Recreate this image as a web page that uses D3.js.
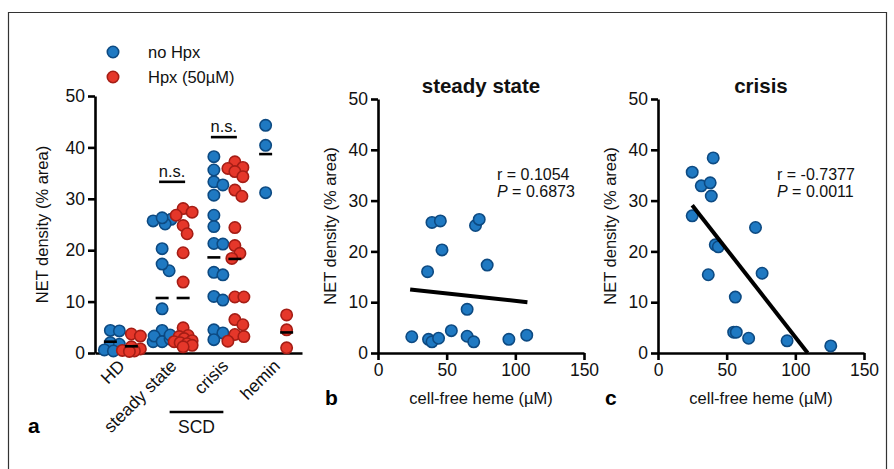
<!DOCTYPE html>
<html>
<head>
<meta charset="utf-8">
<script src="https://cdn.jsdelivr.net/npm/d3@7/dist/d3.min.js"></script>
<style>
  html, body { margin: 0; padding: 0; background: #fff; }
  svg { display: block; font-family: "Liberation Sans", Arial, Helvetica, sans-serif; }
  .axis path, .axis line { stroke: #000; stroke-width: 2.6; }
  .axis text { font-size: 17.5px; fill: #111; font-family: "Liberation Sans", Arial, sans-serif; }
</style>
</head>
<body>
<svg id="chart" width="894" height="469"></svg>
<script>
// ---------------- data ----------------
const categories = ["HD", "steady state", "crisis", "hemin"];
const seriesNames = ["no Hpx", "Hpx (50\u00b5M)"];
const noHpx = [
  [4.4, 4.3, 2.0, 1.7, 0.6, 0.4],
  [3.2, 2.7, 2.2, 2.9, 4.4, 8.6, 3.3, 2.2, 2.7, 3.5, 16.0, 20.3, 17.3, 25.7, 26.0, 25.1, 26.3],
  [38.2, 35.6, 33.3, 32.7, 30.7, 26.8, 24.6, 21.3, 21.2, 15.7, 15.2, 11.0, 10.3, 4.5, 3.9, 2.6],
  [44.3, 40.4, 31.2]
];
const hpx = [
  [3.7, 3.3, 1.2, 0.8, 0.5, 0.4, 0.3],
  [28.1, 27.4, 26.8, 24.8, 23.2, 19.5, 13.8, 4.9, 3.4, 3.2, 2.8, 2.4, 2.2, 2.0, 1.8, 1.5, 1.2],
  [37.2, 36.1, 35.9, 35.3, 34.3, 31.7, 30.5, 24.4, 20.9, 19.4, 18.4, 10.9, 10.9, 6.5, 5.5, 3.6, 3.2, 2.3],
  [7.4, 4.5, 1.0]
];
const meanNoHpx = [2.2, 10.7, 18.6, 38.7];
const meanHpx = [1.3, 10.7, 18.3, 4.0];
const sigCategories = ["steady state", "crisis"];
const sigLevels = [33.3, 42.0];
const sigLabels = ["n.s.", "n.s."];
const groupLabel = "SCD";
const yTicks = [0, 10, 20, 30, 40, 50];
const xTicksHeme = [0, 50, 100, 150];

const steadyHeme = [24.6, 36.8, 39.3, 44.1, 53.4, 64.9, 64.9, 69.7, 95.3, 108.3, 36.1, 46.6, 79.5, 39.3, 45.4, 71.0, 73.7];
const steadyNet  = [3.2, 2.7, 2.2, 2.9, 4.4, 8.6, 3.3, 2.2, 2.7, 3.5, 16.0, 20.3, 17.3, 25.7, 26.0, 25.1, 26.3];
const steadyFit = [[23.4, 12.5], [108.8, 10.0]];
const steadyStats = ["r = 0.1054", "0.6873"];

const crisisHeme = [40.2, 24.9, 31.5, 38.0, 38.8, 24.9, 41.7, 43.9, 36.6, 56.3, 55.1, 57.0, 66.0, 71.0, 75.8, 94.0, 125.8];
const crisisNet  = [38.4, 35.6, 32.9, 33.5, 30.9, 27.0, 21.3, 20.9, 15.4, 11.0, 4.1, 4.1, 2.9, 24.7, 15.7, 2.4, 1.4];
const crisisFit = [[24.9, 29.1], [109.0, 0.0]];
const crisisStats = ["r = -0.7377", "0.0011"];

const yTitle = "NET density (% area)";
const xTitle = "cell-free heme (\u00b5M)";

// ---------------- styles ----------------
const BLUE = "#1f79c2", BLUE_S = "#0d4a82";
const RED = "#e5372a", RED_S = "#a51d15";
const R = 5.7;

const svg = d3.select("#chart");
svg.append("rect").attr("width", 894).attr("height", 469).attr("fill", "#fff");
// frame
svg.append("path").attr("d", "M8.5,469 V12.5 H886.5 V469").attr("fill", "none").attr("stroke", "#333").attr("stroke-width", 1.2);

function dot(sel, fill, stroke) {
  sel.attr("r", R).attr("fill", fill).attr("stroke", stroke).attr("stroke-width", 1.6);
}

// beeswarm: deterministic, bounded horizontal spread
function swarm(values, yScale, minDist, maxOff) {
  const order = values.map((v, i) => i).sort((a, b) => values[b] - values[a]);
  const placed = [];
  const off = new Array(values.length).fill(0);
  const cands = [0];
  for (let k = 1; k <= maxOff; k++) { cands.push(k, -k); }
  order.forEach(i => {
    const y = yScale(values[i]);
    let best = null, bestScore = -1, bestCand = 0;
    for (const c of cands) {
      const md = placed.length ? d3.min(placed, p => Math.hypot(p.x - c, p.y - y)) : Infinity;
      if (md >= minDist) { best = c; break; }
      if (md > bestScore + 0.5) { bestScore = md; bestCand = c; }
    }
    off[i] = best === null ? bestCand : best;
    placed.push({x: off[i], y: y});
  });
  return off;
}

// ---------------- panel a ----------------
const ya = d3.scaleLinear().domain([0, 50]).range([353, 96]);
const xa = d3.scaleBand().domain(categories).range([95, 302]);
const sub = d3.scaleOrdinal().domain(seriesNames).range([-10.5, 10.5]);
const ga = svg.append("g");

ga.append("g").attr("class", "axis").attr("transform", "translate(95,0)")
  .call(d3.axisLeft(ya).tickValues(yTicks).tickSize(7).tickSizeOuter(0).tickPadding(3));
ga.append("g").attr("class", "axis").attr("transform", "translate(0,353)")
  .call(d3.axisBottom(xa).tickSize(0).tickSizeOuter(0).tickFormat(""));

const cx = c => xa(c) + xa.bandwidth() / 2;

categories.forEach((c, ci) => {
  [[noHpx[ci], seriesNames[0], BLUE, BLUE_S, meanNoHpx[ci]], [hpx[ci], seriesNames[1], RED, RED_S, meanHpx[ci]]]
    .forEach(([vals, s, f, st, m]) => {
      const base = cx(c) + sub(s);
      const offs = swarm(vals, ya, 9, 9);
      ga.append("g").selectAll("circle").data(vals).join("circle")
        .attr("cx", (d, i) => base + offs[i]).attr("cy", d => ya(d))
        .call(dot, f, st);
      ga.append("line").attr("x1", base - 6.5).attr("x2", base + 6.5)
        .attr("y1", ya(m)).attr("y2", ya(m)).attr("stroke", "#000").attr("stroke-width", 2.6);
    });
  ga.append("text")
    .attr("transform", `translate(${cx(c) + 5},367) rotate(-45)`)
    .attr("text-anchor", "end").attr("font-size", 17.5).attr("fill", "#111").text(c);
});

// significance
sigCategories.forEach((c, i) => {
  const x1 = cx(c) + sub(seriesNames[0]) - 3, x2 = cx(c) + sub(seriesNames[1]) + 2;
  ga.append("line").attr("x1", x1).attr("x2", x2).attr("y1", ya(sigLevels[i])).attr("y2", ya(sigLevels[i]))
    .attr("stroke", "#000").attr("stroke-width", 2.6);
  ga.append("text").attr("x", (x1 + x2) / 2).attr("y", ya(sigLevels[i]) - 5)
    .attr("text-anchor", "middle").attr("font-size", 16.5).attr("fill", "#111").text(sigLabels[i]);
});

// SCD bracket
const scdX1 = cx("steady state") - 3, scdX2 = cx("crisis") - 1;
ga.append("line").attr("x1", scdX1).attr("x2", scdX2).attr("y1", 412).attr("y2", 412)
  .attr("stroke", "#000").attr("stroke-width", 2.6);
ga.append("text").attr("x", (scdX1 + scdX2) / 2).attr("y", 433).attr("text-anchor", "middle")
  .attr("font-size", 17.5).attr("fill", "#111").text(groupLabel);

// y title
ga.append("text").attr("transform", `translate(48,${(353 + 96) / 2}) rotate(-90)`)
  .attr("text-anchor", "middle").attr("font-size", 16.5).attr("fill", "#111").text(yTitle);

// legend
const leg = ga.append("g");
seriesNames.forEach((s, i) => {
  leg.append("circle").attr("cx", 113).attr("cy", 52 + i * 25).call(dot, i ? RED : BLUE, i ? RED_S : BLUE_S);
  leg.append("text").attr("x", 148).attr("y", 58 + i * 25).attr("font-size", 16.5).attr("fill", "#111").text(s);
});

svg.append("text").attr("x", 28).attr("y", 433).attr("font-size", 21).attr("font-weight", "bold").text("a");

// ---------------- scatter panels ----------------
function scatter(x0, title, label, heme, net, fit, stats) {
  const xs = d3.scaleLinear().domain([0, 150]).range([x0, x0 + 206]);
  const ys = d3.scaleLinear().domain([0, 50]).range([353, 99]);
  const g = svg.append("g");
  g.append("g").attr("class", "axis").attr("transform", `translate(${x0},0)`)
    .call(d3.axisLeft(ys).tickValues(yTicks).tickSize(7).tickSizeOuter(0).tickPadding(3));
  g.append("g").attr("class", "axis").attr("transform", "translate(0,353)")
    .call(d3.axisBottom(xs).tickValues(xTicksHeme).tickSize(7).tickSizeOuter(0).tickPadding(4));
  g.append("g").selectAll("circle").data(heme).join("circle")
    .attr("cx", d => xs(d)).attr("cy", (d, i) => ys(net[i])).call(dot, BLUE, BLUE_S);
  g.append("line").attr("x1", xs(fit[0][0])).attr("y1", ys(fit[0][1]))
    .attr("x2", xs(fit[1][0])).attr("y2", ys(fit[1][1]))
    .attr("stroke", "#000").attr("stroke-width", 4);
  g.append("text").attr("x", x0 + 103).attr("y", 93).attr("text-anchor", "middle")
    .attr("font-size", 20.5).attr("font-weight", "bold").attr("fill", "#111").text(title);
  g.append("text").attr("transform", `translate(${x0 - 42},${(353 + 99) / 2}) rotate(-90)`)
    .attr("text-anchor", "middle").attr("font-size", 16.5).attr("fill", "#111").text(yTitle);
  g.append("text").attr("x", x0 + 103).attr("y", 404).attr("text-anchor", "middle")
    .attr("font-size", 16.5).attr("fill", "#111").text(xTitle);
  g.append("text").attr("x", x0 + 119).attr("y", 180).attr("font-size", 16).attr("fill", "#111").text(stats[0]);
  const t = g.append("text").attr("x", x0 + 119).attr("y", 197).attr("font-size", 16).attr("fill", "#111");
  t.append("tspan").attr("font-style", "italic").text("P");
  t.append("tspan").text(" = " + stats[1]);
  svg.append("text").attr("x", x0 - 53).attr("y", 405).attr("font-size", 21).attr("font-weight", "bold").text(label);
}
scatter(378, "steady state", "b", steadyHeme, steadyNet, steadyFit, steadyStats);
scatter(658, "crisis", "c", crisisHeme, crisisNet, crisisFit, crisisStats);
</script>
</body>
</html>
